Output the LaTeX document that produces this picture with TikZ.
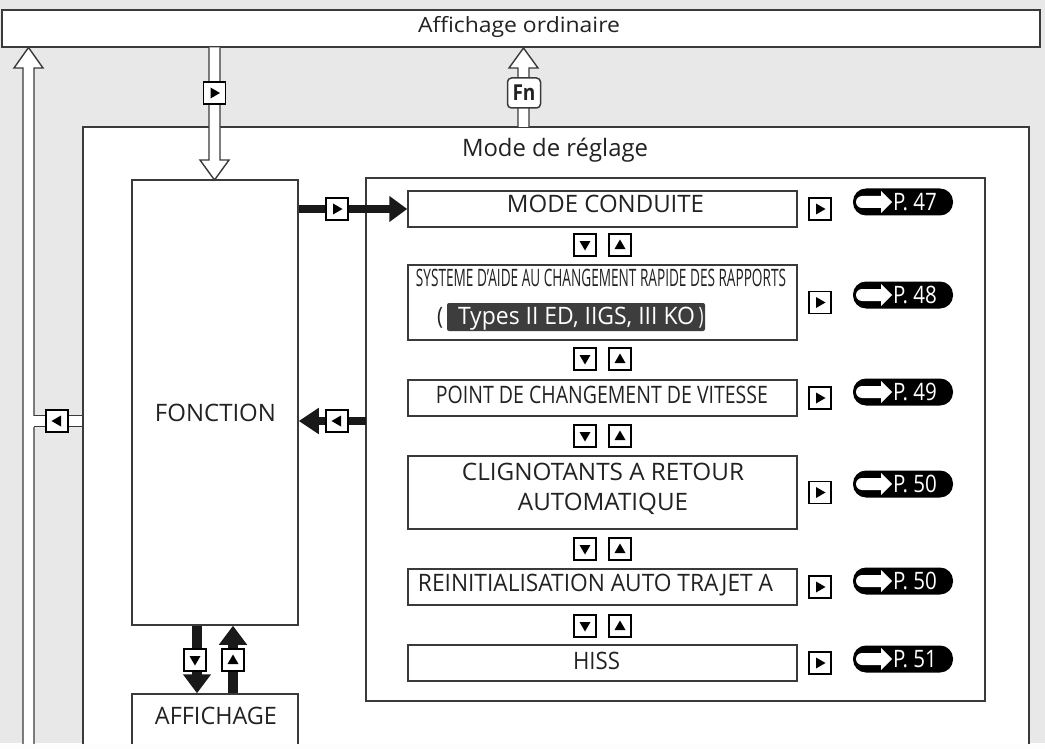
\documentclass[tikz,border=0pt]{standalone}
\usepackage{fontspec}
\setmainfont{Open Sans}
\usepackage{graphicx}
\usetikzlibrary{arrows.meta}
\newcommand\fitw[2]{\resizebox{#1pt}{\height}{#2}}
\definecolor{bg}{HTML}{E8E8E8}
\definecolor{ln}{HTML}{3A3A3A}
\definecolor{hl}{HTML}{3D3D3D}
\definecolor{tx}{HTML}{222222}
\begin{document}
\begin{tikzpicture}[x=1pt,y=-1pt,
  box/.style={draw=ln, line width=1.5pt, fill=white, rectangle, inner sep=0pt},
  txt/.style={anchor=base, inner sep=0pt, font=\fontsize{24}{28}\selectfont, text=tx},
  btn/.style={draw=black, line width=1.7pt, fill=white, minimum size=22pt, inner sep=0pt},
  hollow/.style={draw=ln, line width=1.4pt, fill=white, line join=miter},
  blk/.style={draw=black!90, line width=8pt},
  pill/.style={fill=black, rounded corners=13pt, minimum width=100pt, minimum height=27pt, inner sep=0pt},
  ptxt/.style={anchor=base, inner sep=0pt, text=white, font=\fontsize{24}{28}\selectfont},
  pics/bR/.style={code={\node[btn] (-b) {}; \fill (-4,-5.5)--(5.5,0)--(-4,5.5)--cycle;}},
  pics/bL/.style={code={\node[btn] (-b) {}; \fill (4,-5.5)--(-5.5,0)--(4,5.5)--cycle;}},
  pics/bD/.style={code={\node[btn] (-b) {}; \fill (-5.5,-4)--(5.5,-4)--(0,5.5)--cycle;}},
  pics/bU/.style={code={\node[btn] (-b) {}; \fill (-5.5,4)--(5.5,4)--(0,-5.5)--cycle;}},
  pics/pg/.style={code={\node[pill] (-p) {};
     \fill[white] (-41,-6) arc[start angle=90,end angle=270,radius=6pt] -- (-22,6) -- (-22,11) -- (-11,0) -- (-22,-11) -- (-22,-6) -- cycle;
     \node[ptxt] (-t) at (12,8.5) {\fitw{44}{P. #1}};}}
]
\useasboundingbox (0,0) rectangle (1045,749);
\fill[bg] (0,0) rectangle (1045,749);
\fill[white!92!bg] (0,743) rectangle (1045,749);

% top box
\node[box, line width=1.8pt, minimum width=1038pt, minimum height=37pt] (ord) at (521,28.5) {};

\begin{scope}
\clip (0,0) rectangle (1045,743);
\node[box, minimum width=946pt, minimum height=680pt] (mode) at (556,467) {};
\node[box, minimum width=166pt, minimum height=110pt] (affich) at (215,749) {};
\draw[hollow] (23,760) -- (23,68) -- (14,68) -- (28.5,47.5) -- (43,68) -- (34,68) -- (34,760);
\end{scope}

% horizontal hollow connector to setting box
\coordinate (hl0) at (34,421);
\fill[white] (33.2,415.5) rectangle (82.3,426.5);
\draw[ln, line width=1.4pt] (34,415.5) -- (mode.west |- 0,415.5) (34,426.5) -- (mode.west |- 0,426.5);

\node[box, minimum width=619pt, minimum height=523pt] (inner) at (675.5,439.5) {};
\node[box, minimum width=166pt, minimum height=445pt] (fonc) at (215,402.5) {};

% list boxes
\node[box, minimum width=389pt, minimum height=36pt] (m1) at (602.5,209) {};
\node[box, minimum width=389pt, minimum height=75pt] (m2) at (602.5,302.5) {};
\node[box, minimum width=389pt, minimum height=36pt] (m3) at (602.5,398) {};
\node[box, minimum width=389pt, minimum height=73pt] (m4) at (602.5,492.5) {};
\node[box, minimum width=389pt, minimum height=36pt] (m5) at (602.5,587) {};
\node[box, minimum width=389pt, minimum height=36pt] (m6) at (602.5,663) {};

% hollow arrows
\draw[hollow] (209,47.5) -- (209,160) -- (200,160) -- (214.5,180) -- (229,160) -- (220,160) -- (220,47.5);
\draw[hollow] (518,127) -- (518,68) -- (509,68) -- (523.5,48) -- (538,68) -- (529,68) -- (529,127);
\node[draw=ln, line width=1.5pt, fill=white, rounded corners=4pt, minimum width=33pt, minimum height=30pt, inner sep=0pt, font=\bfseries\fontsize{22}{22}\selectfont, text=tx] (fn) at (524,93) {\fitw{23}{Fn}};

% black arrows
\draw[blk, -{Triangle[length=18pt,width=25pt]}] (fonc.east |- m1.west) -- (m1.west);
\coordinate (ret) at (366,421);
\draw[blk, -{Triangle[length=20pt,width=25pt]}] (ret) -- (fonc.east |- ret);
\coordinate (dA) at (197,0);
\coordinate (uA) at (233,0);
\draw[blk, line width=9.5pt, -{Triangle[length=19pt,width=27pt]}] (fonc.south -| dA) -- (affich.north -| dA);
\draw[blk, line width=9.5pt, -{Triangle[length=19pt,width=27pt]}] (affich.north -| uA) -- (fonc.south -| uA);

% buttons
\pic (k1) at (337,209) {bR};
\pic (k2) at (337,421) {bL};
\pic (k3) at (57,421) {bL};
\pic (k4) at (214.5,93) {bR};
\pic (k5) at (195,660) {bD};
\pic (k6) at (233,660) {bU};
\foreach \yy/\nn in {245/a,359/b,436/c,549/d,626/e}{
  \pic (pd\nn) at (585,\yy) {bD};
  \pic (pu\nn) at (620,\yy) {bU};
}
\foreach \yy/\nn in {209/1,302.5/2,398/3,492.5/4,587/5,663/6}{
  \pic (r\nn) at (820,\yy) {bR};
}
\pic (p1) at (903,202) {pg=47};
\pic (p2) at (903,295) {pg=48};
\pic (p3) at (903,392) {pg=49};
\pic (p4) at (903,484) {pg=50};
\pic (p5) at (903,581) {pg=50};
\pic (p6) at (903,659) {pg=51};

% texts
\node[txt, font=\fontsize{21}{24}\selectfont] (tord) at (519,33) {\fitw{202}{Affichage ordinaire}};
\node[txt] (tmode) at (555,157) {\fitw{186}{Mode de réglage}};
\node[txt] (tfonc) at (215.5,421) {\fitw{121}{FONCTION}};
\node[txt] (taff) at (216,724) {\fitw{122}{AFFICHAGE}};
\node[txt] (t1) at (605.5,212) {\fitw{197}{MODE CONDUITE}};
\node[txt] (t2) at (601,286) {\fitw{370}{SYSTEME D'AIDE AU CHANGEMENT RAPIDE DES RAPPORTS}};
\node[fill=hl, rounded corners=2pt, minimum width=258pt, minimum height=28pt, inner sep=0pt] (hlb) at (576,317) {};
\node[txt, text=white] (t2b) at (576.5,324) {\fitw{237}{Types II ED, IIGS, III KO}};
\node[txt] (po) at (440,324) {\fitw{6}{(}};
\node[txt, text=white] (pcl) at (701,324) {\fitw{5}{)}};
\node[txt] (t3) at (602,403) {\fitw{332}{POINT DE CHANGEMENT DE VITESSE}};
\node[txt] (t4a) at (603,480) {\fitw{282}{CLIGNOTANTS A RETOUR}};
\node[txt] (t4b) at (603,510) {\fitw{170}{AUTOMATIQUE}};
\node[txt] (t5) at (595.5,591) {\fitw{355}{REINITIALISATION AUTO TRAJET A}};
\node[txt] (t6) at (596.5,669) {\fitw{47}{HISS}};
\end{tikzpicture}
\end{document}
